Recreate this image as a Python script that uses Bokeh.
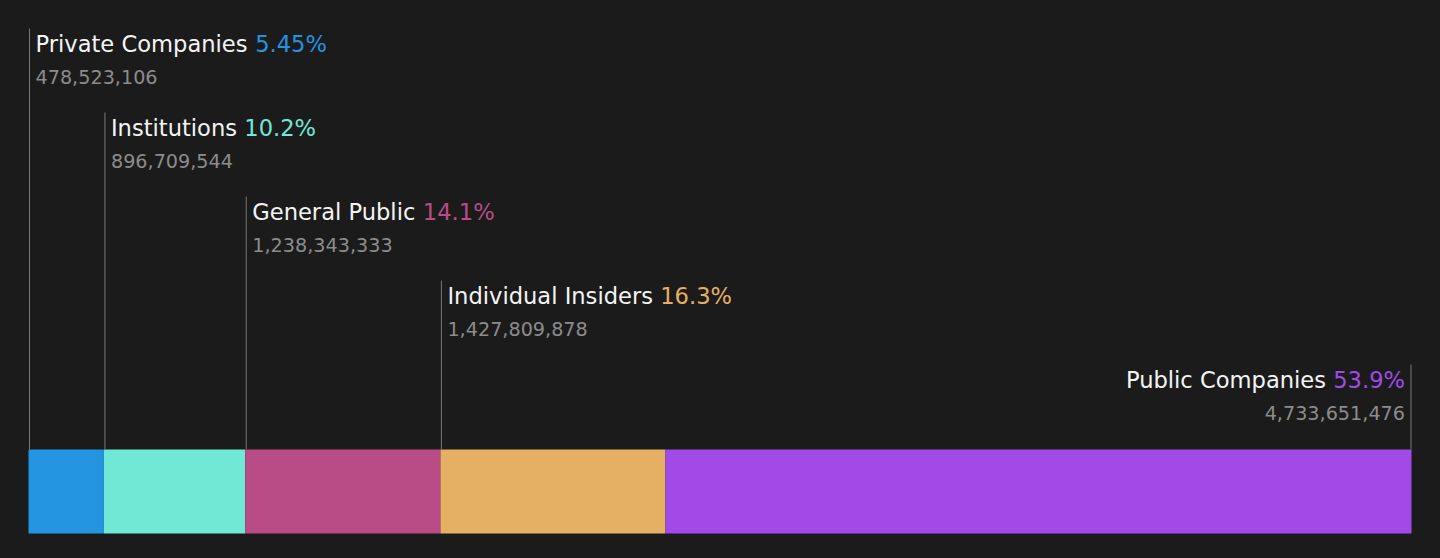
from bokeh.plotting import figure
from bokeh.models import Range1d
from bokeh.embed import file_html
from bokeh.resources import INLINE
from bokeh.core.properties import value

# ---- data ----
categories = ["Private Companies", "Institutions", "General Public", "Individual Insiders", "Public Companies"]
shares = [478523106, 896709544, 1238343333, 1427809878, 4733651476]
pct_labels = ["5.45%", "10.2%", "14.1%", "16.3%", "53.9%"]
value_labels = ["478,523,106", "896,709,544", "1,238,343,333", "1,427,809,878", "4,733,651,476"]
colors = ["#2394e0", "#71e8d6", "#b94b87", "#e5b064", "#a24ae8"]

# ---- layout ----
W, H = 1440, 558
LEFT, RIGHT = 28, 29
BAR_BOTTOM, BAR_TOP = 25, 109
LINE_TOPS = [530, 446, 362, 278, 194]
NAME_SIZE = 22.6
VAL_SIZE = 19.2
BG = "#1b1b1b"

# DejaVu Sans advance widths (units per 2048 em)
ADV = {" ": 651, "%": 1946, ",": 651, ".": 651, "A": 1401, "B": 1405, "C": 1430, "D": 1577,
       "G": 1577, "I": 604, "P": 1235, "a": 1255, "b": 1300, "c": 1126, "d": 1300, "e": 1260,
       "i": 569, "l": 569, "m": 1995, "n": 1298, "o": 1253, "p": 1300, "r": 842, "s": 1067,
       "t": 803, "u": 1298, "v": 1212}
for dch in "0123456789":
    ADV[dch] = 1303


def text_w(s, size):
    return sum(ADV.get(c, 1250) for c in s) * size / 2048.0


total = float(sum(shares))
lefts, rights = [], []
acc = 0.0
for s in shares:
    lefts.append(acc)
    acc += s
    rights.append(acc)

scale = (W - LEFT - RIGHT) / total
p = figure(width=W, height=H, output_backend="svg", toolbar_location=None,
           x_range=Range1d(-LEFT / scale, total + RIGHT / scale),
           y_range=Range1d(0, H), min_border=0)
p.background_fill_color = BG
p.border_fill_color = BG
p.outline_line_color = None
p.xgrid.visible = False
p.ygrid.visible = False
p.xaxis.visible = False
p.yaxis.visible = False

# bars
p.quad(left=lefts, right=rights, bottom=BAR_BOTTOM, top=BAR_TOP,
       fill_color=colors, line_color=None)

# label anchors: left edge, except the last one anchored on right edge
n = len(categories)
anchor_x = [lefts[i] + 1.0 / scale for i in range(n - 1)] + [rights[-1] - 0.5 / scale]
p.segment(x0=anchor_x, y0=[BAR_TOP] * n, x1=anchor_x, y1=LINE_TOPS,
          line_color="#787878", line_width=1)

name_x_off, pct_x_off, val_x_off = [], [], []
for i in range(n):
    nw = text_w(categories[i] + " ", NAME_SIZE)
    pw = text_w(pct_labels[i], NAME_SIZE)
    if i < n - 1:
        name_x_off.append(6)
        pct_x_off.append(6 + nw)
        val_x_off.append(6)
    else:
        name_x_off.append(-6 - pw - text_w(" ", NAME_SIZE))
        pct_x_off.append(-6)
        val_x_off.append(-6)

name_y = [t - 15 for t in LINE_TOPS]
val_y = [t - 48 for t in LINE_TOPS]

font = value("DejaVu Sans")
common_name = dict(text_font=font, text_font_size=f"{NAME_SIZE}px", text_baseline="alphabetic")
common_val = dict(text_font=font, text_font_size=f"{VAL_SIZE}px", text_baseline="alphabetic",
                  text_color="#8c8c8c")

p.text(x=anchor_x[:-1], y=name_y[:-1], text=categories[:-1], x_offset=name_x_off[:-1],
       text_align="left", text_color="#f4f4f4", **common_name)
p.text(x=[anchor_x[-1]], y=[name_y[-1]], text=[categories[-1]], x_offset=name_x_off[-1],
       text_align="right", text_color="#f4f4f4", **common_name)
p.text(x=anchor_x[:-1], y=name_y[:-1], text=pct_labels[:-1], x_offset=pct_x_off[:-1],
       text_align="left", text_color=colors[:-1], **common_name)
p.text(x=[anchor_x[-1]], y=[name_y[-1]], text=[pct_labels[-1]], x_offset=pct_x_off[-1],
       text_align="right", text_color=colors[-1], **common_name)
p.text(x=anchor_x[:-1], y=val_y[:-1], text=value_labels[:-1], x_offset=val_x_off[:-1],
       text_align="left", **common_val)
p.text(x=[anchor_x[-1]], y=[val_y[-1]], text=[value_labels[-1]], x_offset=val_x_off[-1],
       text_align="right", **common_val)

html = file_html(p, INLINE)
html = html.replace("</head>", "<style>html, body{background:%s;}</style></head>" % BG, 1)
open("out.html", "w").write(html)
